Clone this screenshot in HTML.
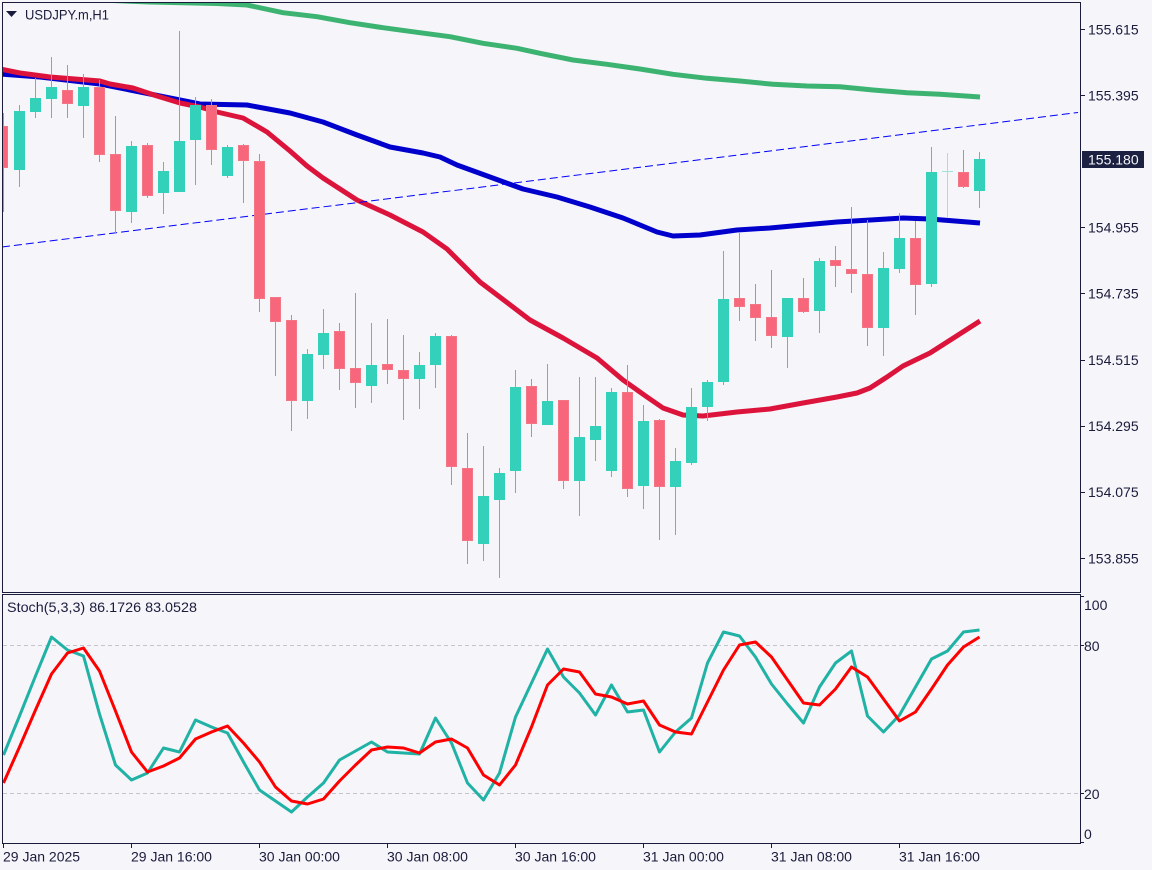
<!DOCTYPE html>
<html><head><meta charset="utf-8"><style>
html,body{margin:0;padding:0;background:#f5f5fa;}
svg{display:block;}
text{font-family:"Liberation Sans",sans-serif;fill:#1b1c3c;}
</style></head><body>
<svg width="1152" height="870" viewBox="0 0 1152 870" xmlns="http://www.w3.org/2000/svg">
<rect x="0" y="0" width="1152" height="870" fill="#f5f5fa"/>
<defs>
<clipPath id="cm"><rect x="3" y="3" width="1077" height="589"/></clipPath>
<clipPath id="cs"><rect x="3" y="595" width="1077" height="248"/></clipPath>
</defs>

<!-- main chart -->
<g clip-path="url(#cm)">
<polyline fill="none" stroke="#3cb371" stroke-width="5" stroke-linejoin="round" points="100,0 150,2 217,3.5 247,5 283,12.7 317,16.7 350,22.7 383,27.7 417,32.3 450,36.7 483,43.3 517,48.3 540,53.3 573,60 607,64.3 640,69 673,74.3 707,78.3 740,81 773,84.3 807,86 840,86.7 873,90 907,92.7 940,94.3 980,97"/>
<polyline fill="none" stroke="#0000cd" stroke-width="5" stroke-linejoin="round" points="0,74 40,77 100,84 140,92 180,100 200,104 247,105 290,113 323,122 357,135 390,147 423,153 440,157 457,165 490,177 523,189 557,197 590,207 623,218 657,232 673,236 700,235 737,230 770,228 803,225 837,222 887,219 903,218 930,219 980,223"/>
<polyline fill="none" stroke="#dc143c" stroke-width="5" stroke-linejoin="round" points="0,69 20,73 50,77 100,81 110,84 133,88 157,96 180,103 200,107 217,112 243,118 267,132 290,151 307,166 323,178 357,200 390,215 423,232 447,249 457,259 480,282 530,320 563,338 597,358 623,380 647,397 663,408 683,415 703,416 737,412 770,409 803,403 837,397 857,393 870,388 887,377 903,366 930,353 980,321"/>
<line x1="2" y1="247" x2="1078" y2="112.5" stroke="#0000ff" stroke-width="1" stroke-dasharray="8,4"/>

<g stroke="#f07585" stroke-width="1">
<line x1="3.5" y1="113" x2="3.5" y2="212"/><line x1="67.5" y1="65" x2="67.5" y2="118"/><line x1="99.5" y1="80" x2="99.5" y2="162"/><line x1="115.5" y1="116" x2="115.5" y2="233"/><line x1="147.5" y1="143" x2="147.5" y2="198"/><line x1="211.5" y1="99" x2="211.5" y2="165"/><line x1="243.5" y1="144" x2="243.5" y2="203"/><line x1="259.5" y1="154" x2="259.5" y2="312"/><line x1="275.5" y1="297" x2="275.5" y2="376"/><line x1="291.5" y1="315" x2="291.5" y2="431"/><line x1="339.5" y1="323" x2="339.5" y2="390"/><line x1="355.5" y1="293" x2="355.5" y2="408"/><line x1="387.5" y1="319" x2="387.5" y2="384"/><line x1="403.5" y1="335" x2="403.5" y2="420"/><line x1="451.5" y1="335" x2="451.5" y2="485"/><line x1="467.5" y1="433" x2="467.5" y2="564"/><line x1="531.5" y1="379" x2="531.5" y2="437"/><line x1="563.5" y1="400" x2="563.5" y2="489"/><line x1="627.5" y1="365" x2="627.5" y2="497"/><line x1="659.5" y1="419" x2="659.5" y2="540"/><line x1="739.5" y1="233" x2="739.5" y2="321"/><line x1="755.5" y1="284" x2="755.5" y2="341"/><line x1="771.5" y1="270" x2="771.5" y2="348"/><line x1="803.5" y1="278" x2="803.5" y2="313"/><line x1="835.5" y1="246" x2="835.5" y2="287"/><line x1="851.5" y1="207" x2="851.5" y2="293"/><line x1="867.5" y1="220" x2="867.5" y2="346"/><line x1="915.5" y1="221" x2="915.5" y2="315"/><line x1="963.5" y1="150" x2="963.5" y2="188"/>
</g>
<g fill="#f7667a" stroke="#f27686" stroke-width="1">
<rect x="-2.5" y="126.5" width="10" height="41"/><rect x="62.5" y="90.5" width="10" height="13"/><rect x="94.5" y="87.5" width="10" height="67"/><rect x="110.5" y="154.5" width="10" height="56"/><rect x="142.5" y="145.5" width="10" height="50"/><rect x="206.5" y="105.5" width="10" height="44"/><rect x="238.5" y="145.5" width="10" height="15"/><rect x="254.5" y="161.5" width="10" height="137"/><rect x="270.5" y="297.5" width="10" height="24"/><rect x="286.5" y="320.5" width="10" height="80"/><rect x="334.5" y="331.5" width="10" height="37"/><rect x="350.5" y="368.5" width="10" height="14"/><rect x="382.5" y="364.5" width="10" height="5"/><rect x="398.5" y="370.5" width="10" height="8"/><rect x="446.5" y="336.5" width="10" height="130"/><rect x="462.5" y="468.5" width="10" height="72"/><rect x="526.5" y="386.5" width="10" height="37"/><rect x="558.5" y="400.5" width="10" height="80"/><rect x="622.5" y="392.5" width="10" height="96"/><rect x="654.5" y="420.5" width="10" height="66"/><rect x="734.5" y="298.5" width="10" height="8"/><rect x="750.5" y="304.5" width="10" height="13"/><rect x="766.5" y="317.5" width="10" height="18"/><rect x="798.5" y="298.5" width="10" height="13"/><rect x="830.5" y="260.5" width="10" height="5"/><rect x="846.5" y="269.5" width="10" height="4"/><rect x="862.5" y="274.5" width="10" height="53"/><rect x="910.5" y="238.5" width="10" height="46"/><rect x="958.5" y="172.5" width="10" height="14"/>
</g>
<g stroke="#33d1b9" stroke-width="1">
<line x1="19.5" y1="105" x2="19.5" y2="187"/><line x1="35.5" y1="78" x2="35.5" y2="118"/><line x1="51.5" y1="57" x2="51.5" y2="118"/><line x1="83.5" y1="74" x2="83.5" y2="138"/><line x1="131.5" y1="141" x2="131.5" y2="223"/><line x1="163.5" y1="162" x2="163.5" y2="214"/><line x1="179.5" y1="31" x2="179.5" y2="192"/><line x1="195.5" y1="97" x2="195.5" y2="185"/><line x1="227.5" y1="145" x2="227.5" y2="178"/><line x1="307.5" y1="349" x2="307.5" y2="419"/><line x1="323.5" y1="309" x2="323.5" y2="369"/><line x1="371.5" y1="323" x2="371.5" y2="403"/><line x1="419.5" y1="352" x2="419.5" y2="409"/><line x1="435.5" y1="333" x2="435.5" y2="388"/><line x1="483.5" y1="446" x2="483.5" y2="561"/><line x1="499.5" y1="468" x2="499.5" y2="578"/><line x1="515.5" y1="370" x2="515.5" y2="493"/><line x1="547.5" y1="364" x2="547.5" y2="425"/><line x1="579.5" y1="377" x2="579.5" y2="516"/><line x1="595.5" y1="377" x2="595.5" y2="461"/><line x1="611.5" y1="388" x2="611.5" y2="477"/><line x1="643.5" y1="405" x2="643.5" y2="509"/><line x1="675.5" y1="448" x2="675.5" y2="535"/><line x1="691.5" y1="388" x2="691.5" y2="465"/><line x1="707.5" y1="380" x2="707.5" y2="421"/><line x1="723.5" y1="251" x2="723.5" y2="385"/><line x1="787.5" y1="298" x2="787.5" y2="368"/><line x1="819.5" y1="258" x2="819.5" y2="333"/><line x1="883.5" y1="252" x2="883.5" y2="356"/><line x1="899.5" y1="213" x2="899.5" y2="273"/><line x1="931.5" y1="147" x2="931.5" y2="287"/><line x1="979.5" y1="152" x2="979.5" y2="208"/>
</g>
<g fill="#33d1b9">
<rect x="14" y="111" width="11" height="59"/><rect x="30" y="98" width="11" height="14"/><rect x="46" y="87" width="11" height="12"/><rect x="78" y="87" width="11" height="19"/><rect x="126" y="146" width="11" height="66"/><rect x="158" y="171" width="11" height="22"/><rect x="174" y="141" width="11" height="51"/><rect x="190" y="105" width="11" height="35"/><rect x="222" y="147" width="11" height="29"/><rect x="302" y="354" width="11" height="47"/><rect x="318" y="333" width="11" height="22"/><rect x="366" y="365" width="11" height="21"/><rect x="414" y="365" width="11" height="14"/><rect x="430" y="336" width="11" height="29"/><rect x="478" y="496" width="11" height="48"/><rect x="494" y="473" width="11" height="27"/><rect x="510" y="387" width="11" height="84"/><rect x="542" y="401" width="11" height="24"/><rect x="574" y="437" width="11" height="44"/><rect x="590" y="426" width="11" height="14"/><rect x="606" y="392" width="11" height="79"/><rect x="638" y="421" width="11" height="65"/><rect x="670" y="461" width="11" height="26"/><rect x="686" y="407" width="11" height="56"/><rect x="702" y="382" width="11" height="25"/><rect x="718" y="299" width="11" height="83"/><rect x="782" y="298" width="11" height="39"/><rect x="814" y="261" width="11" height="50"/><rect x="878" y="268" width="11" height="60"/><rect x="894" y="238" width="11" height="31"/><rect x="926" y="172" width="11" height="112"/><rect x="974" y="159" width="11" height="32"/>
</g>
<g stroke="#9fe3d8" stroke-width="1">
<line x1="947.5" y1="153" x2="947.5" y2="217"/><line x1="942" y1="171.5" x2="953" y2="171.5"/>
</g>
</g>

<!-- stochastic -->
<g clip-path="url(#cs)">
<line x1="3" y1="645.5" x2="1080" y2="645.5" stroke="#c4c4cc" stroke-width="1" stroke-dasharray="4,3"/>
<line x1="3" y1="793.5" x2="1080" y2="793.5" stroke="#c4c4cc" stroke-width="1" stroke-dasharray="4,3"/>
<polyline fill="none" stroke="#20b2a5" stroke-width="3" stroke-linejoin="round" points="3.5,755 19.5,716 35.5,676 51.5,637 67.5,650 83.5,656 99.5,714 115.5,765 131.5,780 147.5,773 163.5,748 179.5,752 195.5,720 211.5,727 227.5,733 243.5,762 259.5,790 275.5,801 291.5,812 307.5,797 323.5,783 339.5,760 355.5,751 371.5,742 387.5,752 403.5,753 419.5,754 435.5,718 451.5,743 467.5,783 483.5,800 499.5,773 515.5,717 531.5,683 547.5,649 563.5,677 579.5,693 595.5,715 611.5,685 627.5,712 643.5,710 659.5,752 675.5,732 691.5,718 707.5,663 723.5,632 739.5,636 755.5,657 771.5,684 787.5,704 803.5,723 819.5,687 835.5,663 851.5,651 867.5,716 883.5,732 899.5,715 915.5,687 931.5,659 947.5,651 963.5,632 979.5,630"/>
<polyline fill="none" stroke="#ff0000" stroke-width="3" stroke-linejoin="round" points="3.5,783 19.5,747 35.5,710 51.5,674 67.5,653 83.5,648 99.5,671 115.5,711 131.5,752 147.5,772 163.5,766 179.5,758 195.5,739 211.5,732 227.5,726 243.5,743 259.5,762 275.5,787 291.5,801 307.5,804 323.5,799 339.5,781 355.5,765 371.5,750 387.5,747 403.5,748 419.5,753 435.5,742 451.5,739 467.5,748 483.5,775 499.5,785 515.5,765 531.5,727 547.5,685 563.5,669 579.5,672 595.5,694 611.5,697 627.5,704 643.5,701 659.5,725 675.5,732 691.5,734 707.5,702 723.5,670 739.5,645 755.5,642 771.5,657 787.5,680 803.5,703 819.5,705 835.5,689 851.5,667 867.5,677 883.5,699 899.5,721 915.5,712 931.5,689 947.5,665 963.5,647 979.5,637"/>
</g>

<!-- frames -->
<g fill="none" stroke="#1b1c3c" stroke-width="1">
<rect x="2.5" y="2.5" width="1078" height="590"/>
<rect x="2.5" y="594.5" width="1078" height="249"/>
</g>
<g stroke="#1b1c3c" stroke-width="1">
<line x1="1080" y1="29.5" x2="1085" y2="29.5"/><line x1="1080" y1="95.5" x2="1085" y2="95.5"/><line x1="1080" y1="227.5" x2="1085" y2="227.5"/><line x1="1080" y1="293.5" x2="1085" y2="293.5"/><line x1="1080" y1="360.5" x2="1085" y2="360.5"/><line x1="1080" y1="426.5" x2="1085" y2="426.5"/><line x1="1080" y1="492.5" x2="1085" y2="492.5"/><line x1="1080" y1="558.5" x2="1085" y2="558.5"/>
<line x1="1080" y1="596.5" x2="1084" y2="596.5"/><line x1="1080" y1="645.5" x2="1084" y2="645.5"/><line x1="1080" y1="793.5" x2="1084" y2="793.5"/><line x1="1080" y1="842.5" x2="1084" y2="842.5"/>
<line x1="3.5" y1="843" x2="3.5" y2="848"/><line x1="131.5" y1="843" x2="131.5" y2="848"/><line x1="259.5" y1="843" x2="259.5" y2="848"/><line x1="387.5" y1="843" x2="387.5" y2="848"/><line x1="515.5" y1="843" x2="515.5" y2="848"/><line x1="643.5" y1="843" x2="643.5" y2="848"/><line x1="771.5" y1="843" x2="771.5" y2="848"/><line x1="899.5" y1="843" x2="899.5" y2="848"/>
</g>

<!-- title -->
<polygon points="6,11 17,11 11.5,17" fill="#1b1c3c"/>
<text x="25" y="19.5" font-size="14" textLength="84" lengthAdjust="spacingAndGlyphs">USDJPY.m,H1</text>
<text x="7" y="612" font-size="14" textLength="190" lengthAdjust="spacingAndGlyphs">Stoch(5,3,3) 86.1726 83.0528</text>

<!-- price axis -->
<g font-size="14">
<text x="1088" y="34.5">155.615</text>
<text x="1088" y="100.5">155.395</text>
<text x="1088" y="232.5">154.955</text>
<text x="1088" y="298.5">154.735</text>
<text x="1088" y="365">154.515</text>
<text x="1088" y="431">154.295</text>
<text x="1088" y="497">154.075</text>
<text x="1088" y="563.5">153.855</text>
</g>
<rect x="1082" y="151" width="62" height="17" fill="#1c2141"/>
<text x="1088" y="164.5" font-size="14" style="fill:#f5f5fa">155.180</text>

<!-- stoch axis -->
<g font-size="14">
<text x="1084" y="610">100</text>
<text x="1084" y="651">80</text>
<text x="1084" y="799">20</text>
<text x="1084" y="839">0</text>
</g>

<!-- time axis -->
<g font-size="14">
<text x="3" y="861.5">29 Jan 2025</text>
<text x="131" y="861.5">29 Jan 16:00</text>
<text x="259" y="861.5">30 Jan 00:00</text>
<text x="387" y="861.5">30 Jan 08:00</text>
<text x="515" y="861.5">30 Jan 16:00</text>
<text x="643" y="861.5">31 Jan 00:00</text>
<text x="771" y="861.5">31 Jan 08:00</text>
<text x="899" y="861.5">31 Jan 16:00</text>
</g>
</svg>
</body></html>
